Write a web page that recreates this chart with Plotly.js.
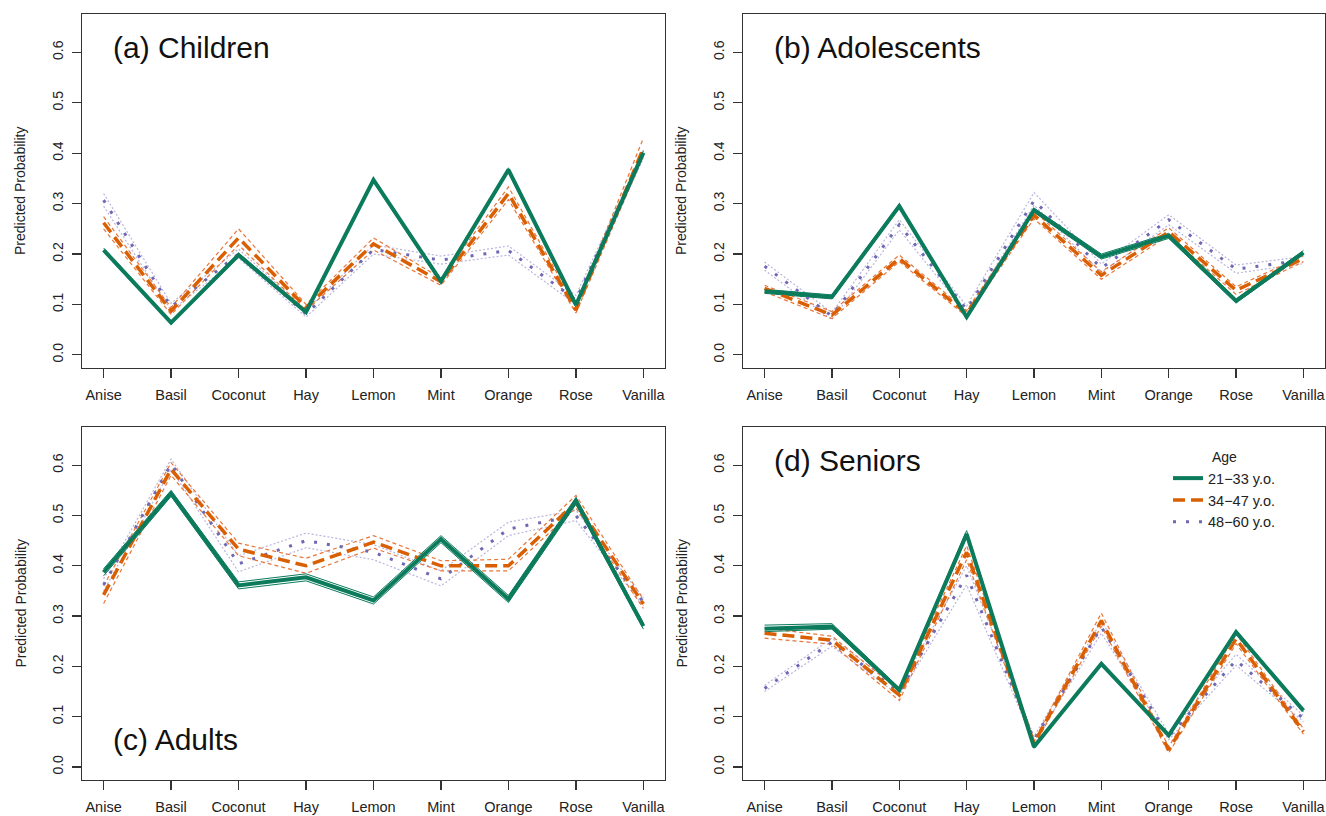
<!DOCTYPE html>
<html>
<head>
<meta charset="utf-8">
<script src="https://cdn.plot.ly/plotly-3.0.1.min.js"></script>
<style>
html,body{margin:0;padding:0;background:#fff;}
#chart{width:1326px;height:816px;}
</style>
</head>
<body>
<div id="chart"></div>
<script>
// ---------- data ----------
const scents = ["Anise","Basil","Coconut","Hay","Lemon","Mint","Orange","Rose","Vanilla"];
const ageGroups = ["21\u221233 y.o.","34\u221247 y.o.","48\u221260 y.o."];
const panelTitles = ["(a) Children","(b) Adolescents","(c) Adults","(d) Seniors"];
const yTickVals = [0, 0.1, 0.2, 0.3, 0.4, 0.5, 0.6];
const yTickText = ["0.0","0.1","0.2","0.3","0.4","0.5","0.6"];

// (a) Children
const childYoung    = [0.208, 0.064, 0.198, 0.085, 0.347, 0.146, 0.367, 0.099, 0.401];
const childYoungLo  = [0.204, 0.061, 0.194, 0.082, 0.343, 0.142, 0.363, 0.095, 0.397];
const childYoungHi  = [0.212, 0.067, 0.202, 0.088, 0.351, 0.150, 0.371, 0.103, 0.405];
const childMid      = [0.262, 0.087, 0.232, 0.094, 0.220, 0.145, 0.320, 0.089, 0.410];
const childMidLo    = [0.250, 0.080, 0.218, 0.088, 0.208, 0.138, 0.308, 0.083, 0.395];
const childMidHi    = [0.274, 0.094, 0.250, 0.100, 0.232, 0.152, 0.333, 0.096, 0.430];
const childOld      = [0.307, 0.095, 0.200, 0.081, 0.209, 0.188, 0.207, 0.109, 0.398];
const childOldLo    = [0.295, 0.088, 0.192, 0.075, 0.200, 0.180, 0.198, 0.100, 0.390];
const childOldHi    = [0.320, 0.102, 0.210, 0.088, 0.218, 0.196, 0.216, 0.118, 0.406];

// (b) Adolescents
const adolYoung     = [0.126, 0.115, 0.295, 0.075, 0.287, 0.195, 0.236, 0.107, 0.203];
const adolYoungLo   = [0.122, 0.111, 0.291, 0.072, 0.283, 0.190, 0.231, 0.103, 0.199];
const adolYoungHi   = [0.130, 0.119, 0.299, 0.078, 0.291, 0.200, 0.241, 0.111, 0.207];
const adolMid       = [0.132, 0.079, 0.191, 0.082, 0.277, 0.158, 0.244, 0.128, 0.191];
const adolMidLo     = [0.125, 0.072, 0.185, 0.076, 0.270, 0.150, 0.237, 0.120, 0.185];
const adolMidHi     = [0.138, 0.086, 0.198, 0.088, 0.285, 0.165, 0.252, 0.135, 0.197];
const adolOld       = [0.176, 0.077, 0.258, 0.090, 0.306, 0.172, 0.268, 0.170, 0.188];
const adolOldLo     = [0.168, 0.070, 0.248, 0.083, 0.297, 0.163, 0.258, 0.162, 0.181];
const adolOldHi     = [0.184, 0.084, 0.268, 0.097, 0.322, 0.180, 0.278, 0.178, 0.195];

// (c) Adults
const adultYoung    = [0.387, 0.544, 0.361, 0.377, 0.331, 0.453, 0.334, 0.529, 0.280];
const adultYoungLo  = [0.380, 0.538, 0.354, 0.370, 0.324, 0.446, 0.327, 0.522, 0.274];
const adultYoungHi  = [0.394, 0.550, 0.368, 0.384, 0.338, 0.460, 0.341, 0.536, 0.286];
const adultMid      = [0.342, 0.592, 0.433, 0.400, 0.447, 0.400, 0.400, 0.526, 0.324];
const adultMidLo    = [0.325, 0.580, 0.420, 0.385, 0.435, 0.390, 0.390, 0.515, 0.315];
const adultMidHi    = [0.360, 0.605, 0.445, 0.415, 0.460, 0.410, 0.413, 0.540, 0.333];
const adultOld      = [0.362, 0.602, 0.404, 0.450, 0.427, 0.374, 0.473, 0.500, 0.328];
const adultOldLo    = [0.350, 0.592, 0.388, 0.436, 0.412, 0.360, 0.460, 0.490, 0.320];
const adultOldHi    = [0.374, 0.612, 0.420, 0.465, 0.442, 0.390, 0.487, 0.510, 0.336];

// (d) Seniors
const seniorYoung   = [0.275, 0.279, 0.153, 0.463, 0.040, 0.205, 0.063, 0.268, 0.112];
const seniorYoungLo = [0.269, 0.274, 0.150, 0.458, 0.037, 0.202, 0.060, 0.264, 0.109];
const seniorYoungHi = [0.282, 0.285, 0.157, 0.470, 0.043, 0.208, 0.066, 0.272, 0.115];
const seniorMid     = [0.266, 0.252, 0.143, 0.427, 0.047, 0.291, 0.034, 0.255, 0.070];
const seniorMidLo   = [0.256, 0.244, 0.132, 0.412, 0.042, 0.280, 0.028, 0.245, 0.065];
const seniorMidHi   = [0.276, 0.260, 0.152, 0.440, 0.052, 0.306, 0.040, 0.265, 0.076];
const seniorOld     = [0.156, 0.248, 0.149, 0.381, 0.054, 0.278, 0.060, 0.212, 0.096];
const seniorOldLo   = [0.150, 0.240, 0.142, 0.362, 0.048, 0.266, 0.054, 0.202, 0.090];
const seniorOldHi   = [0.162, 0.256, 0.156, 0.400, 0.060, 0.290, 0.066, 0.224, 0.102];

// ---------- build ----------
const panels = [
  {young:[childYoung,childYoungLo,childYoungHi], mid:[childMid,childMidLo,childMidHi], old:[childOld,childOldLo,childOldHi]},
  {young:[adolYoung,adolYoungLo,adolYoungHi], mid:[adolMid,adolMidLo,adolMidHi], old:[adolOld,adolOldLo,adolOldHi]},
  {young:[adultYoung,adultYoungLo,adultYoungHi], mid:[adultMid,adultMidLo,adultMidHi], old:[adultOld,adultOldLo,adultOldHi]},
  {young:[seniorYoung,seniorYoungLo,seniorYoungHi], mid:[seniorMid,seniorMidLo,seniorMidHi], old:[seniorOld,seniorOldLo,seniorOldHi]}
];

const GREEN = "#0b7b5c", ORANGE = "#d95f02", PURPLE = "#6f68b3";
const styles = {
  young: {main:{color:GREEN,width:4,dash:"solid"}, ci:{color:GREEN,width:1,dash:"solid"}},
  mid:   {main:{color:ORANGE,width:3.5,dash:"12px,6px"}, ci:{color:"#e8763a",width:1.2,dash:"4px,3px"}},
  old:   {main:{color:PURPLE,width:3,dash:"3px,10px"}, ci:{color:"#b9b5de",width:1.2,dash:"2px,2px"}}
};
const legendOf = {young:ageGroups[0], mid:ageGroups[1], old:ageGroups[2]};

const traces = [];
panels.forEach((p, i) => {
  const xa = i === 0 ? "x" : "x" + (i + 1);
  const ya = i === 0 ? "y" : "y" + (i + 1);
  ["old","mid","young"].forEach(k => {
    [1,2].forEach(j => {
      traces.push({x:scents, y:p[k][j], xaxis:xa, yaxis:ya, type:"scatter", mode:"lines",
        line:styles[k].ci, showlegend:false, hoverinfo:"skip"});
    });
  });
  ["old","mid","young"].forEach(k => {
    traces.push({x:scents, y:p[k][0], xaxis:xa, yaxis:ya, type:"scatter", mode:"lines",
      name:legendOf[k], legendgroup:k, showlegend:i===3,
      line:styles[k].main});
  });
});

const FONT = "Liberation Sans, Arial, Helvetica, sans-serif";
const xDomains = [[82/1326, 665/1326],[743/1326, 1325/1326],[82/1326, 665/1326],[743/1326, 1325/1326]];
const yDomains = [[448/816, 802/816],[448/816, 802/816],[36/816, 389/816],[36/816, 389/816]];

const layout = {
  width:1326, height:816,
  margin:{l:0,r:0,t:0,b:0},
  paper_bgcolor:"#fff", plot_bgcolor:"#fff",
  font:{family:FONT, color:"#222", size:14},
  showlegend:true,
  legend:{x:1168/1326, y:(816-444)/816, xanchor:"left", yanchor:"top", bgcolor:"rgba(0,0,0,0)",
    traceorder:"reversed", font:{size:14.5, family:FONT, color:"#222"},
    title:{text:"Age", side:"top center", font:{size:14, family:FONT, color:"#222"}},
    itemwidth:30, tracegroupgap:0},
  annotations:[],
  shapes:[]
};
for (let i = 0; i < 4; i++) {
  const s = i === 0 ? "" : String(i + 1);
  layout["xaxis" + s] = {
    domain:xDomains[i], anchor:"y" + s, type:"category", categoryorder:"array", categoryarray:scents,
    range:[-0.32, 8.32], showgrid:false, zeroline:false,
    showline:true, mirror:true, linecolor:"#333", linewidth:1.3,
    ticks:"outside", ticklen:9, tickwidth:1.2, tickcolor:"#333",
    tickfont:{size:14.5, family:FONT, color:"#222"}, ticklabelstandoff:4
  };
  layout["yaxis" + s] = {
    domain:yDomains[i], anchor:"x" + s, range:[-0.026, 0.676], showgrid:false, zeroline:false,
    showline:true, mirror:true, linecolor:"#333", linewidth:1.3,
    ticks:"outside", ticklen:9, tickwidth:1.2, tickcolor:"#333",
    tickvals:yTickVals, ticktext:yTickText, tickangle:-90,
    tickfont:{size:14, family:FONT, color:"#222"}, ticklabelstandoff:3
  };
  layout.annotations.push({
    text:panelTitles[i], xref:"x" + s + " domain", yref:"y" + s + " domain",
    x:0.05, y: i === 2 ? 0.115 : 0.905, xanchor:"left", yanchor:"middle",
    showarrow:false, font:{size:30, family:FONT, color:"#111"}
  });
  const xPos = (i % 2 === 0 ? 20 : 681) / 1326;
  layout.annotations.push({
    text:"Predicted Probability", xref:"paper", yref:"y" + s + " domain",
    x:xPos, y:0.5, xanchor:"center", yanchor:"middle", textangle:-90,
    showarrow:false, font:{size:14, family:FONT, color:"#222"}
  });
}
Plotly.newPlot("chart", traces, layout, {displayModeBar:false, staticPlot:true});
</script>
</body>
</html>
